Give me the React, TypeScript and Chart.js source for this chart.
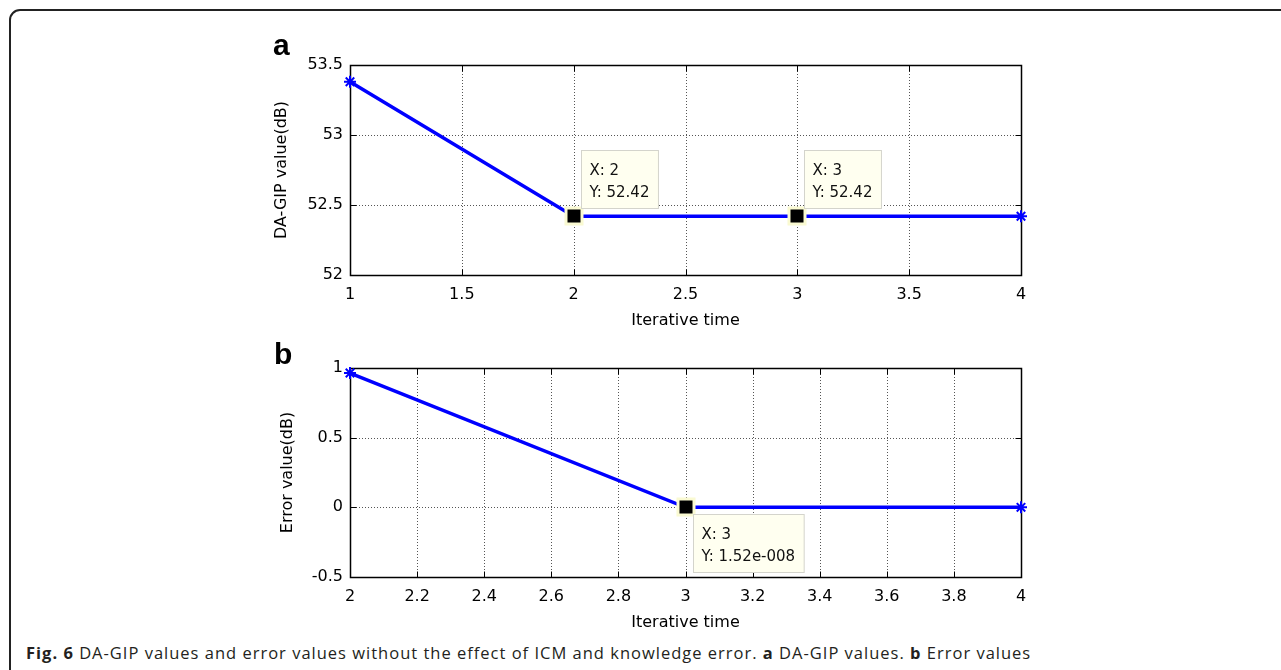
import React, { useEffect, useRef } from 'react';
import { Chart, registerables } from 'chart.js';

Chart.register(...registerables);

// ---- Panel a data ----
const topX = [1, 2, 3, 4];
const topY = [53.38, 52.42, 52.42, 52.42];
const topXTicks = [1, 1.5, 2, 2.5, 3, 3.5, 4];
const topYTicks = [52, 52.5, 53, 53.5];
const topTipX = [2, 3];
const topTipY = [52.42, 52.42];
const topTipLabels = [['X: 2', 'Y: 52.42'], ['X: 3', 'Y: 52.42']];

// ---- Panel b data ----
const botX = [2, 3, 4];
const botY = [0.964, 1.52e-8, 0];
const botXTicks = [2, 2.2, 2.4, 2.6, 2.8, 3, 3.2, 3.4, 3.6, 3.8, 4];
const botYTicks = [-0.5, 0, 0.5, 1];
const botTipX = [3];
const botTipY = [1.52e-8];
const botTipLabels = [['X: 3', 'Y: 1.52e-008']];

const AXIS_FONT = { family: '"DejaVu Sans", sans-serif', size: 16 };

const matlabAxes = {
  id: 'matlabAxes',
  beforeDatasetsDraw(chart: any) {
    const { ctx, chartArea: a, scales } = chart;
    const x = scales.x;
    const y = scales.y;
    ctx.save();
    // dotted grid
    ctx.strokeStyle = '#555555';
    ctx.lineWidth = 1;
    ctx.setLineDash([1, 2]);
    x.ticks.forEach((t: any) => {
      const px = Math.round(x.getPixelForValue(t.value)) + 0.5;
      ctx.beginPath();
      ctx.moveTo(px, a.top);
      ctx.lineTo(px, a.bottom);
      ctx.stroke();
    });
    y.ticks.forEach((t: any) => {
      const py = Math.round(y.getPixelForValue(t.value)) + 0.5;
      ctx.beginPath();
      ctx.moveTo(a.left, py);
      ctx.lineTo(a.right, py);
      ctx.stroke();
    });
    ctx.setLineDash([]);
    // box
    ctx.strokeStyle = '#000000';
    ctx.lineWidth = 1.5;
    const L = Math.round(a.left) + 0.5;
    const R = Math.round(a.right) + 0.5;
    const T = Math.round(a.top) + 0.5;
    const B = Math.round(a.bottom) + 0.5;
    ctx.strokeRect(L, T, R - L, B - T);
    // inward ticks
    ctx.lineWidth = 1;
    const tl = 6;
    x.ticks.forEach((t: any) => {
      const px = Math.round(x.getPixelForValue(t.value)) + 0.5;
      ctx.beginPath();
      ctx.moveTo(px, B);
      ctx.lineTo(px, B - tl);
      ctx.moveTo(px, T);
      ctx.lineTo(px, T + tl);
      ctx.stroke();
    });
    y.ticks.forEach((t: any) => {
      const py = Math.round(y.getPixelForValue(t.value)) + 0.5;
      ctx.beginPath();
      ctx.moveTo(L, py);
      ctx.lineTo(L + tl, py);
      ctx.moveTo(R, py);
      ctx.lineTo(R - tl, py);
      ctx.stroke();
    });
    ctx.restore();
  },
  afterDatasetsDraw(chart: any, _args: any, opts: any) {
    const { ctx, scales } = chart;
    const x = scales.x;
    const y = scales.y;
    const tips = (opts && opts.tips) || [];
    ctx.save();
    tips.forEach((t: any) => {
      const px = Math.round(x.getPixelForValue(t.x));
      const py = Math.round(y.getPixelForValue(t.y));
      // marker
      ctx.fillStyle = '#fafad2';
      ctx.fillRect(px - 9.5, py - 9.5, 19, 19);
      ctx.fillStyle = '#000000';
      ctx.fillRect(px - 6.5, py - 6.5, 13, 13);
      // box
      ctx.font = '15px "DejaVu Sans", sans-serif';
      const w = Math.max(...t.lines.map((s: string) => ctx.measureText(s).width)) + 17;
      const h = 58;
      const left = Math.round(px + 7) + 0.5;
      const top = Math.round(t.place === 'below' ? py + 7 : py - 66) + 0.5;
      ctx.fillStyle = '#fffff0';
      ctx.fillRect(left, top, w, h);
      ctx.strokeStyle = '#d4d4cc';
      ctx.lineWidth = 1;
      ctx.strokeRect(left, top, w, h);
      ctx.fillStyle = '#111111';
      ctx.textBaseline = 'alphabetic';
      ctx.textAlign = 'left';
      t.lines.forEach((s: string, i: number) => {
        ctx.fillText(s, left + 8, top + 24 + i * 22);
      });
    });
    ctx.restore();
  },
};

function makeConfig(p: {
  xs: number[];
  ys: number[];
  xTicks: number[];
  yTicks: number[];
  yTitle: string;
  yAxisWidth: number;
  padding: any;
  tips: any[];
}) {
  return {
    type: 'line' as const,
    data: {
      datasets: [
        {
          data: p.xs.map((v, i) => ({ x: v, y: p.ys[i] })),
          borderColor: '#0000ff',
          backgroundColor: '#0000ff',
          borderWidth: 3.5,
          pointStyle: 'star',
          pointRadius: 6,
          pointBorderWidth: 2,
          pointBorderColor: '#0000ff',
          fill: false,
          tension: 0,
          clip: false,
        },
      ],
    },
    options: {
      animation: false,
      responsive: false,
      maintainAspectRatio: false,
      layout: { padding: p.padding.layout },
      plugins: {
        legend: { display: false },
        tooltip: { enabled: false },
        matlabAxes: { tips: p.tips },
      },
      scales: {
        x: {
          type: 'linear',
          min: p.xTicks[0],
          max: p.xTicks[p.xTicks.length - 1],
          afterBuildTicks: (s: any) => {
            s.ticks = p.xTicks.map((v) => ({ value: v }));
          },
          afterFit: (s: any) => {
            s.height = p.padding.xAxisHeight;
          },
          grid: { display: false, drawTicks: false, tickLength: 0 },
          border: { display: false },
          ticks: {
            autoSkip: false,
            maxRotation: 0,
            font: AXIS_FONT,
            color: '#000000',
            padding: 10,
            callback: (v: any) => String(v),
          },
          title: {
            display: true,
            text: 'Iterative time',
            font: AXIS_FONT,
            color: '#000000',
            padding: { top: 4, bottom: 1 },
          },
        },
        y: {
          type: 'linear',
          min: p.yTicks[0],
          max: p.yTicks[p.yTicks.length - 1],
          afterBuildTicks: (s: any) => {
            s.ticks = p.yTicks.map((v) => ({ value: v }));
          },
          afterFit: (s: any) => {
            s.width = p.yAxisWidth;
          },
          grid: { display: false, drawTicks: false, tickLength: 0 },
          border: { display: false },
          ticks: {
            font: AXIS_FONT,
            color: '#000000',
            padding: 7,
            callback: (v: any) => String(v),
          },
          title: {
            display: true,
            text: p.yTitle,
            font: AXIS_FONT,
            color: '#000000',
            padding: { top: 4, bottom: 4 },
          },
        },
      },
    },
    plugins: [matlabAxes],
  };
}

function Panel(props: { cfg: any; left: number; top: number; width: number; height: number }) {
  const ref = useRef<HTMLCanvasElement | null>(null);
  useEffect(() => {
    if (!ref.current) return;
    const chart = new Chart(ref.current, props.cfg);
    return () => chart.destroy();
  }, []);
  return (
    <canvas
      ref={ref}
      width={props.width}
      height={props.height}
      style={{
        position: 'absolute',
        left: props.left,
        top: props.top,
        width: props.width,
        height: props.height,
      }}
    />
  );
}

export default function App() {
  const topCfg = makeConfig({
    xs: topX,
    ys: topY,
    xTicks: topXTicks,
    yTicks: topYTicks,
    yTitle: 'DA-GIP value(dB)',
    yAxisWidth: 82,
    padding: { layout: { left: 68, right: 39, top: 25, bottom: 8.4 }, xAxisHeight: 56.6 },
    tips: topTipX.map((v, i) => ({ x: v, y: topTipY[i], lines: topTipLabels[i], place: 'above' })),
  });
  const botCfg = makeConfig({
    xs: botX,
    ys: botY,
    xTicks: botXTicks,
    yTicks: botYTicks,
    yTitle: 'Error value(dB)',
    yAxisWidth: 75.6,
    padding: { layout: { left: 74.4, right: 39, top: 28, bottom: 6.4 }, xAxisHeight: 56.6 },
    tips: botTipX.map((v, i) => ({ x: v, y: botTipY[i], lines: botTipLabels[i], place: 'below' })),
  });

  const panelLabel: React.CSSProperties = {
    position: 'absolute',
    fontFamily: '"Liberation Sans", Arial, sans-serif',
    fontWeight: 'bold',
    fontSize: 30,
    lineHeight: '30px',
    color: '#000',
  };

  return (
    <div
      style={{
        position: 'absolute',
        left: 0,
        top: 0,
        width: 1281,
        height: 670,
        overflow: 'hidden',
        background: '#ffffff',
      }}
    >
      <div
        style={{
          position: 'absolute',
          left: 9,
          top: 9,
          width: 1400,
          height: 800,
          border: '2px solid #222',
          borderTopLeftRadius: 11,
          boxSizing: 'border-box',
        }}
      />
      <Panel cfg={topCfg} left={200} top={40} width={860} height={300} />
      <Panel cfg={botCfg} left={200} top={340} width={860} height={300} />
      <div style={{ ...panelLabel, left: 273, top: 30 }}>a</div>
      <div style={{ ...panelLabel, left: 274, top: 339 }}>b</div>
      <div
        style={{
          position: 'absolute',
          left: 26,
          top: 643,
          fontFamily: '"Open Sans", "Noto Sans", sans-serif',
          fontSize: 16.5,
          letterSpacing: '1px',
          lineHeight: '20px',
          color: '#231f20',
          whiteSpace: 'nowrap',
        }}
      >
        <b>Fig. 6</b> DA-GIP values and error values without the effect of ICM and knowledge error.{' '}
        <b>a</b> DA-GIP values. <b>b</b> Error values
      </div>
    </div>
  );
}
